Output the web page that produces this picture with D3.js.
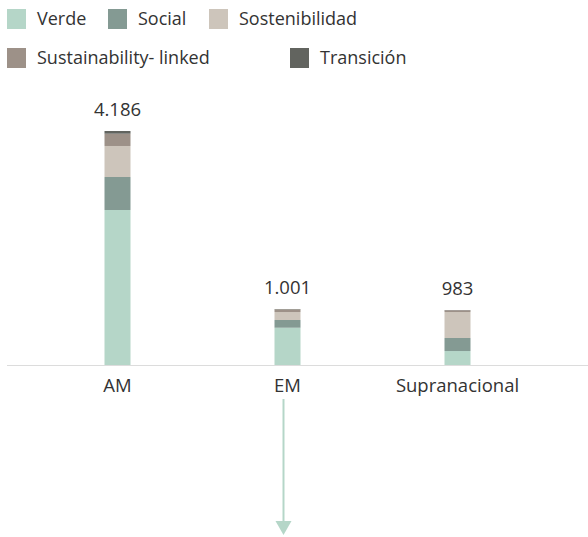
<!DOCTYPE html>
<html>
<head>
<meta charset="utf-8">
<script src="https://cdn.jsdelivr.net/npm/d3@7"></script>
<style>
  body { margin: 0; background: #fff; }
  text { font-family: "Open Sans", sans-serif; fill: #333; }
</style>
</head>
<body>
<svg id="chart" width="588" height="537"></svg>
<script>
// categories and series
var categories = ["AM", "EM", "Supranacional"];
var series = ["Verde", "Social", "Sostenibilidad", "Sustainability- linked", "Transición"];
var verde = [2773, 667, 250];
var social = [590, 138, 233];
var sostenibilidad = [555, 143, 465];
var slb = [220, 48, 30];
var transicion = [48, 5, 5];
var totals = [4186, 1001, 983];
var totalLabels = ["4.186", "1.001", "983"];
var colors = ["#b5d6c8", "#849a93", "#cdc5bb", "#9d9188", "#62645f"];

var svg = d3.select("#chart");
var baseY = 365;

// build table for the stack
var table = categories.map(function(c, i) {
    return {
        cat: c,
        "Verde": verde[i],
        "Social": social[i],
        "Sostenibilidad": sostenibilidad[i],
        "Sustainability- linked": slb[i],
        "Transición": transicion[i]
    };
});
var stacked = d3.stack().keys(series)(table);

var x = d3.scaleBand().domain(categories).range([32.5, 542.5]).paddingInner(0.847).paddingOuter(0.4235);
var y = d3.scaleLinear().domain([0, 4186]).range([baseY, 131]);

// axis line
svg.append("line")
    .attr("x1", 7).attr("x2", 588)
    .attr("y1", baseY + 0.5).attr("y2", baseY + 0.5)
    .attr("stroke", "#dcdcdc").attr("stroke-width", 1);

// bars
var bw = 26;
svg.selectAll("g.layer")
    .data(stacked)
    .join("g")
    .attr("class", "layer")
    .attr("fill", function(d, i) { return colors[i]; })
    .selectAll("rect")
    .data(function(d) { return d; })
    .join("rect")
    .attr("x", function(d) { return x(d.data.cat) + x.bandwidth() / 2 - bw / 2; })
    .attr("width", bw)
    .attr("y", function(d) { return y(d[1]); })
    .attr("height", function(d) { return y(d[0]) - y(d[1]); });

// total labels
svg.selectAll("text.total")
    .data(categories)
    .join("text")
    .attr("class", "total")
    .attr("x", function(d) { return x(d) + x.bandwidth() / 2; })
    .attr("y", function(d, i) { return y(totals[i]) - 15; })
    .attr("text-anchor", "middle")
    .attr("font-size", "18.5px")
    .text(function(d, i) { return totalLabels[i]; });

// category labels
svg.selectAll("text.cat")
    .data(categories)
    .join("text")
    .attr("class", "cat")
    .attr("x", function(d) { return x(d) + x.bandwidth() / 2; })
    .attr("y", 392)
    .attr("text-anchor", "middle")
    .attr("font-size", "18.5px")
    .text(function(d) { return d; });

// legend
var legendPos = [[7, 9], [108, 9], [209, 9], [7, 48], [290, 48]];
var lg = svg.selectAll("g.legend")
    .data(series)
    .join("g")
    .attr("class", "legend")
    .attr("transform", function(d, i) { return "translate(" + legendPos[i][0] + "," + legendPos[i][1] + ")"; });
lg.append("rect")
    .attr("width", 19).attr("height", 20)
    .attr("fill", function(d, i) { return colors[i]; });
lg.append("text")
    .attr("x", 30).attr("y", 16)
    .attr("font-size", "18px")
    .text(function(d) { return d; });

// arrow under EM
var ax = x("EM") + x.bandwidth() / 2 - 4;
svg.append("line")
    .attr("x1", ax).attr("x2", ax)
    .attr("y1", 399).attr("y2", 522)
    .attr("stroke", colors[0]).attr("stroke-width", 2);
svg.append("path")
    .attr("d", "M" + (ax - 8) + ",521 L" + (ax + 8) + ",521 L" + ax + ",535 Z")
    .attr("fill", colors[0]);
</script>
</body>
</html>
